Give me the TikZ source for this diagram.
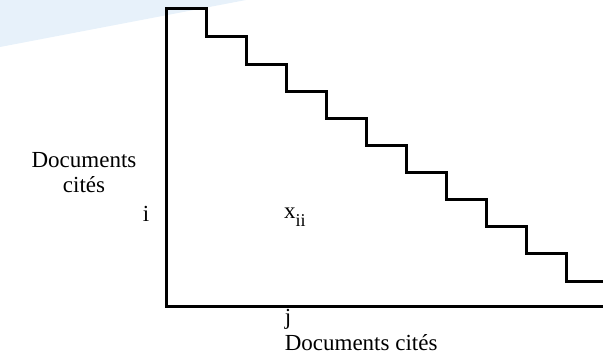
\documentclass[tikz,border=0pt]{standalone}
\usepackage{xcolor}
\usepackage{fontspec}
\setmainfont{Liberation Serif}
\usepackage{tikz}
\usetikzlibrary{positioning}

\definecolor{paleblue}{RGB}{231,241,250}

\begin{document}
\begin{tikzpicture}[x=1pt, y=-1pt]
			\tikzstyle{label}=[inner sep=0pt, text=black, font=\fontsize{23}{25}\selectfont]
			\tikzstyle{stair}=[draw=black, line width=3pt, line join=miter]
			
			\useasboundingbox (0,0) rectangle (603,359);
			
			% pale band in the upper left corner
			\fill [paleblue] (0,0) -- (246,0) -- (0,47) -- cycle;
			
			\coordinate (origin) at (166,306);
			\coordinate (xend) at (603,306);
			
			\draw [stair] (xend) -- (origin) -- (166,8) -- (206,8) -- (206,36) -- (246,36) -- (246,64) -- (286,64) -- (286,91) -- (326,91) -- (326,118) -- (366,118) -- (366,145) -- (406,145) -- (406,172) -- (446,172) -- (446,199) -- (486,199) -- (486,226) -- (526,226) -- (526,253) -- (566,253) -- (566,281) -- (603,281);
			
			\node (rowtitle) at (84,173) [label, align=center] {Documents\\cités};
			\node (rowidx) at (146,214) [label] {i};
			\node (cell) [label, anchor=base west] at (284,218) {x\raisebox{-8pt}{\fontsize{18}{18}\selectfont ii}};
			
			\node (colidx) at (288,319) [label] {j};
			\node (coltitle) [label, below right=5pt and 0pt of colidx.south west] {Documents cités};
			
			%		\path (0, -2) -- (0.1, -2);
\end{tikzpicture}
\end{document}
